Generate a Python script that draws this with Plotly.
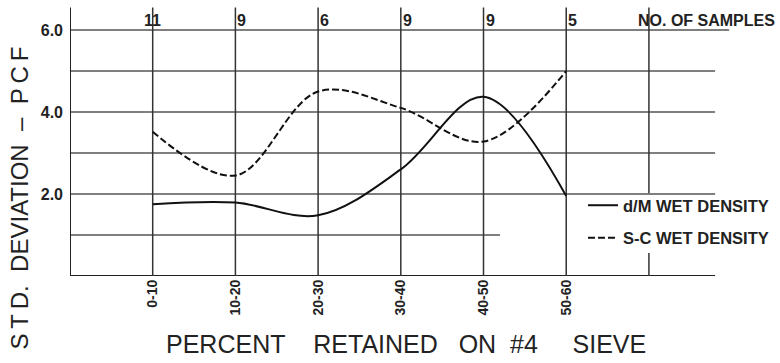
import plotly.graph_objects as go

# Std. deviation of wet density by gradation class (percent retained on #4 sieve)
categories = ["0-10", "10-20", "20-30", "30-40", "40-50", "50-60"]
sample_counts = [11, 9, 6, 9, 9, 5]
dm_wet_density = [1.75, 1.79, 1.48, 2.60, 4.37, 1.95]
sc_wet_density = [3.52, 2.45, 4.50, 4.10, 3.28, 5.00]
y_tick_values = [2, 4, 6]
y_tick_labels = ["2.0", "4.0", "6.0"]
grid_levels = [1, 2, 3, 4, 5, 6]

BOLD = "Liberation Sans, Arial, Helvetica, sans-serif"
PLAIN = "Liberation Sans, Arial, Helvetica, sans-serif"
INK = "#222"

x_pos = list(range(1, len(categories) + 1))
count_col = len(categories) + 1          # column holding the "NO. OF SAMPLES" heading
x_max, y_max = 8.585, 6.732
grid_right = 7.8
line_top = 6.55

fig = go.Figure()
fig.add_trace(go.Scatter(
    x=x_pos, y=dm_wet_density, mode="lines", name="d/M WET DENSITY",
    legendgroup="dm",
    line=dict(color="#111", width=2, shape="spline", smoothing=1.0)))
fig.add_trace(go.Scatter(
    x=x_pos, y=sc_wet_density, mode="lines", name="S-C WET DENSITY",
    legendgroup="sc",
    line=dict(color="#111", width=2, dash="7px,3px", shape="spline", smoothing=1.0)))

shapes = []
grid_style = dict(color="#555", width=1.5)
for lvl in grid_levels:
    right = grid_right
    if lvl == grid_levels[0]:
        right = 5.2            # interrupted by the legend block
    if lvl == grid_levels[-1]:
        right = 7.97
    shapes.append(dict(type="line", xref="x", yref="y", x0=0, x1=right, y0=lvl, y1=lvl,
                       line=grid_style, layer="below"))
# axes
shapes.append(dict(type="line", xref="x", yref="y", x0=0, x1=grid_right, y0=0, y1=0,
                   line=dict(color=INK, width=2), layer="below"))
shapes.append(dict(type="line", xref="x", yref="y", x0=0, x1=0, y0=0, y1=line_top,
                   line=dict(color=INK, width=2), layer="below"))
# column lines
for xp in x_pos:
    shapes.append(dict(type="line", xref="x", yref="y", x0=xp, x1=xp, y0=0, y1=line_top,
                       line=dict(color="#333", width=1.5), layer="below"))
for y0, y1 in [(2.02, line_top), (0, 0.56)]:
    shapes.append(dict(type="line", xref="x", yref="y", x0=count_col, x1=count_col, y0=y0, y1=y1,
                       line=dict(color="#333", width=1.5), layer="below"))

annotations = []
for xp, n in zip(x_pos, sample_counts):
    txt = str(n)
    annotations.append(dict(
        x=xp, y=6.24, xref="x", yref="y", text=txt, showarrow=False,
        xanchor="center" if len(txt) > 1 else "left",
        font=dict(family=BOLD, size=16, color=INK, weight="bold")))
annotations.append(dict(
    x=count_col, y=6.24, xref="x", yref="y", text="NO. OF SAMPLES", showarrow=False,
    xanchor="left", xshift=-13,
    font=dict(family=BOLD, size=16, color=INK, weight="bold")))
annotations.append(dict(
    x=18.5, y=198, xref="paper", yref="paper",
    text="S\u2009T\u2009D.\u00a0\u00a0DEVIATION\u00a0\u00a0\u2013\u00a0\u00a0P\u2009C\u2009F",
    textangle=-90, showarrow=False, xanchor="center", yanchor="middle",
    font=dict(family=PLAIN, size=24, color=INK)))
annotations.append(dict(
    x=406, y=344, xref="paper", yref="paper",
    text="PERCENT\u00a0\u00a0\u00a0\u00a0RETAINED\u00a0\u00a0\u00a0ON\u00a0\u00a0#4\u00a0\u00a0\u00a0\u00a0\u00a0SIEVE",
    showarrow=False, xanchor="center", yanchor="middle",
    font=dict(family=PLAIN, size=25, color=INK)))

# pixel positions above are converted to paper fractions of the plot area
L, B, PW, PH = 70, 87, 710, 276
for a in annotations:
    if a["xref"] == "paper":
        a["x"] = (a["x"] - L) / PW
        a["y"] = (PH - a["y"]) / PH

fig.update_layout(
    width=780, height=363,
    margin=dict(l=L, r=0, t=0, b=B),
    paper_bgcolor="white", plot_bgcolor="white",
    shapes=shapes, annotations=annotations,
    showlegend=True,
    legend=dict(x=(583 - L) / PW, y=(PH - 188) / PH, xanchor="left", yanchor="top",
                bgcolor="rgba(0,0,0,0)", tracegroupgap=8,
                font=dict(family=BOLD, size=16.5, color=INK, weight="bold")),
    xaxis=dict(range=[0, x_max], showgrid=False, zeroline=False, showline=False,
               tickvals=x_pos, ticktext=categories, tickangle=-90, ticks="",
               tickfont=dict(family=BOLD, size=14, color=INK, weight="bold")),
    yaxis=dict(range=[0, y_max], showgrid=False, zeroline=False, showline=False,
               tickvals=y_tick_values, ticktext=y_tick_labels, ticks="",
               ticklabelstandoff=6,
               tickfont=dict(family=BOLD, size=16, color=INK, weight="bold")),
)

fig.write_html("out.html")
